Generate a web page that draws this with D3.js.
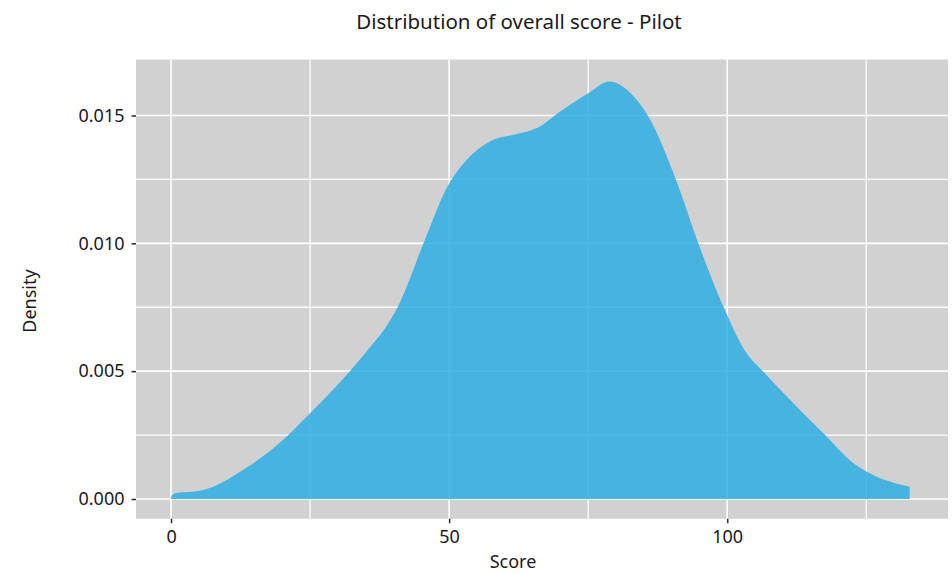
<!DOCTYPE html>
<html><head><meta charset="utf-8">
<script src="https://cdn.jsdelivr.net/npm/d3@7"></script>
<style>body{margin:0;background:#fff}svg{display:block}text{font-family:"Noto Sans",sans-serif;fill:#1a1a1a}</style>
</head><body><svg id="c" width="952" height="574"></svg>
<script>
const scores = [0, 0.6, 5.5, 13, 21.1, 25, 32.2, 36.4, 38.5, 41.2, 45.4, 49.9, 53.2, 57.4, 61.6, 65.8, 70, 75.1, 78.8, 82.6, 85.8, 91, 94.8, 99.3, 103.5, 106.5, 111.9, 117.3, 122.7, 125.1, 132.8];
const density = [0.0001, 0.00022, 0.00033, 0.00114, 0.0025, 0.00335, 0.00501, 0.0061, 0.00668, 0.00771, 0.0100, 0.0123, 0.01327, 0.01399, 0.01425, 0.01451, 0.01516, 0.01588, 0.01633, 0.01588, 0.01497, 0.01236, 0.0100, 0.00753, 0.0057, 0.00498, 0.00375, 0.00257, 0.0014, 0.00107, 0.00048];
const xMajor = [0, 50, 100];
const xMinor = [25, 75, 125];
const yMajor = [0, 0.005, 0.010, 0.015];
const yMinor = [0.0025, 0.0075, 0.0125];
const title = "Distribution of overall score - Pilot";
const xTitle = "Score";
const yTitle = "Density";

const svg = d3.select("#c");
const P = {l:136, r:948, t:59.5, b:518.7};
const x = d3.scaleLinear().domain([-6.3, 139.7]).range([P.l, P.r]);
const y = d3.scaleLinear().domain([-0.00077, 0.01719]).range([P.b, P.t]);

svg.append("rect").attr("x",P.l).attr("y",P.t).attr("width",P.r-P.l).attr("height",P.b-P.t).attr("fill","#d1d1d1");
const g = svg.append("g");
g.selectAll(".hmin").data(yMinor).join("line").attr("x1",P.l).attr("x2",P.r).attr("y1",d=>y(d)).attr("y2",d=>y(d)).attr("stroke","#fff").attr("stroke-width",1.3);
g.selectAll(".vmin").data(xMinor).join("line").attr("y1",P.t).attr("y2",P.b).attr("x1",d=>x(d)).attr("x2",d=>x(d)).attr("stroke","#fff").attr("stroke-width",1.3);
g.selectAll(".hmaj").data(yMajor).join("line").attr("x1",P.l).attr("x2",P.r).attr("y1",d=>y(d)).attr("y2",d=>y(d)).attr("stroke","#fff").attr("stroke-width",1.6);
g.selectAll(".vmaj").data(xMajor).join("line").attr("y1",P.t).attr("y2",P.b).attr("x1",d=>x(d)).attr("x2",d=>x(d)).attr("stroke","#fff").attr("stroke-width",1.6);

const pts = scores.map((s,i)=>[s,density[i]]);
const area = d3.area().x(d=>x(d[0])).y0(y(0)).y1(d=>y(d[1])).curve(d3.curveMonotoneX);
svg.append("path").datum(pts).attr("d",area).attr("fill","#2faee2").attr("fill-opacity",0.86);

// axes
const xa = svg.append("g").attr("transform",`translate(0,${P.b})`).call(d3.axisBottom(x).tickValues(xMajor).tickSize(4.5).tickPadding(4).tickFormat(d3.format("d")));
const ya = svg.append("g").attr("transform",`translate(${P.l},0)`).call(d3.axisLeft(y).tickValues(yMajor).tickSize(4.5).tickPadding(7).tickFormat(d3.format(".3f")));
[xa,ya].forEach(a=>{a.select(".domain").remove();a.selectAll(".tick line").attr("stroke","#333").attr("stroke-width",1.6);a.selectAll("text").attr("font-size",18).attr("font-family","Noto Sans").attr("fill","#1a1a1a");});
xa.selectAll("text").attr("dy","0.9em");

svg.append("text").attr("x",519).attr("y",29).attr("text-anchor","middle").attr("font-size",20.5).text(title);
svg.append("text").attr("x",513).attr("y",568).attr("text-anchor","middle").attr("font-size",18).text(xTitle);
svg.append("text").attr("transform","translate(36,301) rotate(-90)").attr("text-anchor","middle").attr("font-size",18).text(yTitle);
</script></body></html>
